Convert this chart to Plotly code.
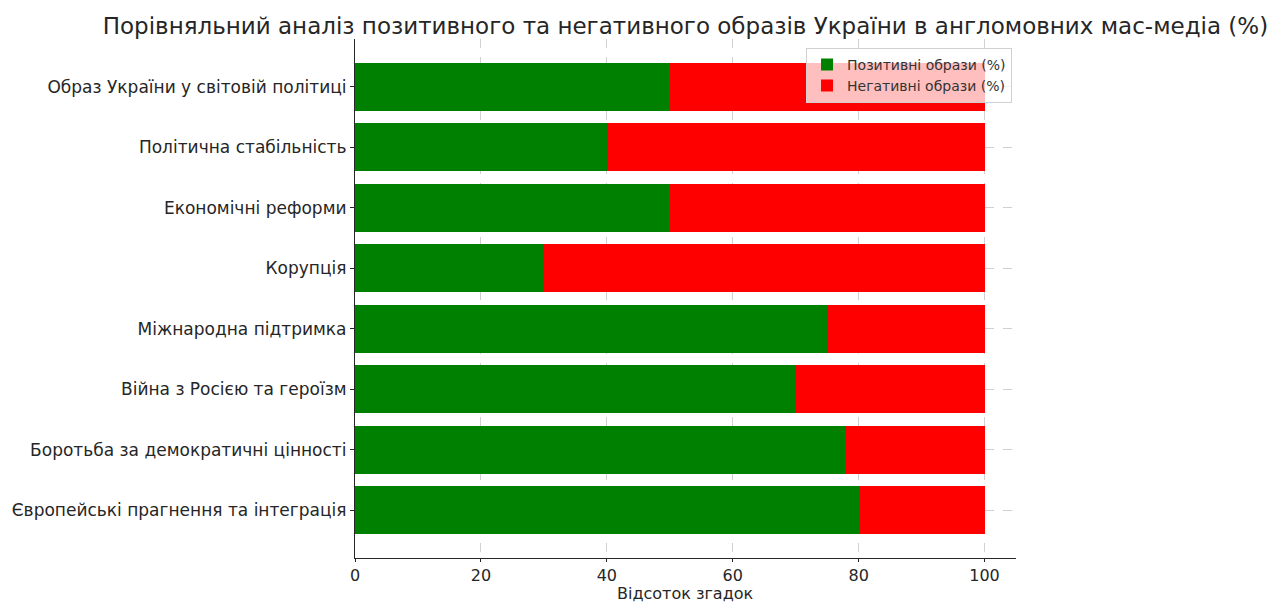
import plotly.graph_objects as go

categories = [
    "Європейські прагнення та інтеграція",
    "Боротьба за демократичні цінності",
    "Війна з Росією та героїзм",
    "Міжнародна підтримка",
    "Корупція",
    "Економічні реформи",
    "Політична стабільність",
    "Образ України у світовій політиці",
]
positive = [80, 78, 70, 75, 30, 50, 40, 50]
negative = [20, 22, 30, 25, 70, 50, 60, 50]
x_ticks = [0, 20, 40, 60, 80, 100]

FONT = "DejaVu Sans"

fig = go.Figure()
fig.add_trace(go.Bar(y=list(range(len(categories))), x=positive, orientation="h",
                     name="Позитивні образи (%)", marker=dict(color="green", line=dict(width=0)),
                     width=0.8))
fig.add_trace(go.Bar(y=list(range(len(categories))), x=negative, orientation="h",
                     name="Негативні образи (%)", marker=dict(color="red", line=dict(width=0)),
                     width=0.8))

fig.update_layout(
    barmode="stack",
    width=1286, height=606,
    margin=dict(l=355, r=270, t=39, b=48),
    paper_bgcolor="white", plot_bgcolor="white",
    font=dict(family=FONT, color="#262626", size=17),
    title=dict(text="Порівняльний аналіз позитивного та негативного образів України в англомовних мас-медіа (%)",
               x=0.533, xanchor="center", y=0.957, yanchor="middle",
               font=dict(size=23, family=FONT, color="#262626")),
    legend=dict(x=0.994, xanchor="right", y=0.983, yanchor="top",
                bgcolor="rgba(255,255,255,0.75)", bordercolor="#d0d0d0", borderwidth=1,
                font=dict(size=14, family=FONT, color="#333"), traceorder="normal",
                itemwidth=30, tracegroupgap=0),
    showlegend=True,
    annotations=[dict(text="Відсоток згадок", xref="paper", yref="paper", x=0.5, y=-0.069,
                      xanchor="center", yanchor="middle", showarrow=False, borderpad=0,
                      font=dict(size=16, family=FONT, color="#262626"))],
)
fig.update_xaxes(range=[0, 105], tickvals=x_ticks, ticktext=[str(v) for v in x_ticks],
                 showgrid=True, gridcolor="rgba(176,176,176,0.6)", griddash="dash", gridwidth=1,
                 showline=True, linecolor="#262626", linewidth=1.2,
                 ticks="outside", ticklen=3, tickcolor="#262626",
                 layer="above traces", zeroline=False, automargin=False,
                 tickfont=dict(size=16))
fig.update_yaxes(range=[-0.79, 7.79], tickvals=list(range(len(categories))), ticktext=categories,
                 showgrid=True, gridcolor="rgba(176,176,176,0.6)", griddash="dash", gridwidth=1,
                 showline=True, linecolor="#262626", linewidth=1.2,
                 ticks="outside", ticklen=4, tickcolor="#262626", automargin=False,
                 layer="above traces", zeroline=False, tickfont=dict(size=17))

fig.write_html("out.html")
